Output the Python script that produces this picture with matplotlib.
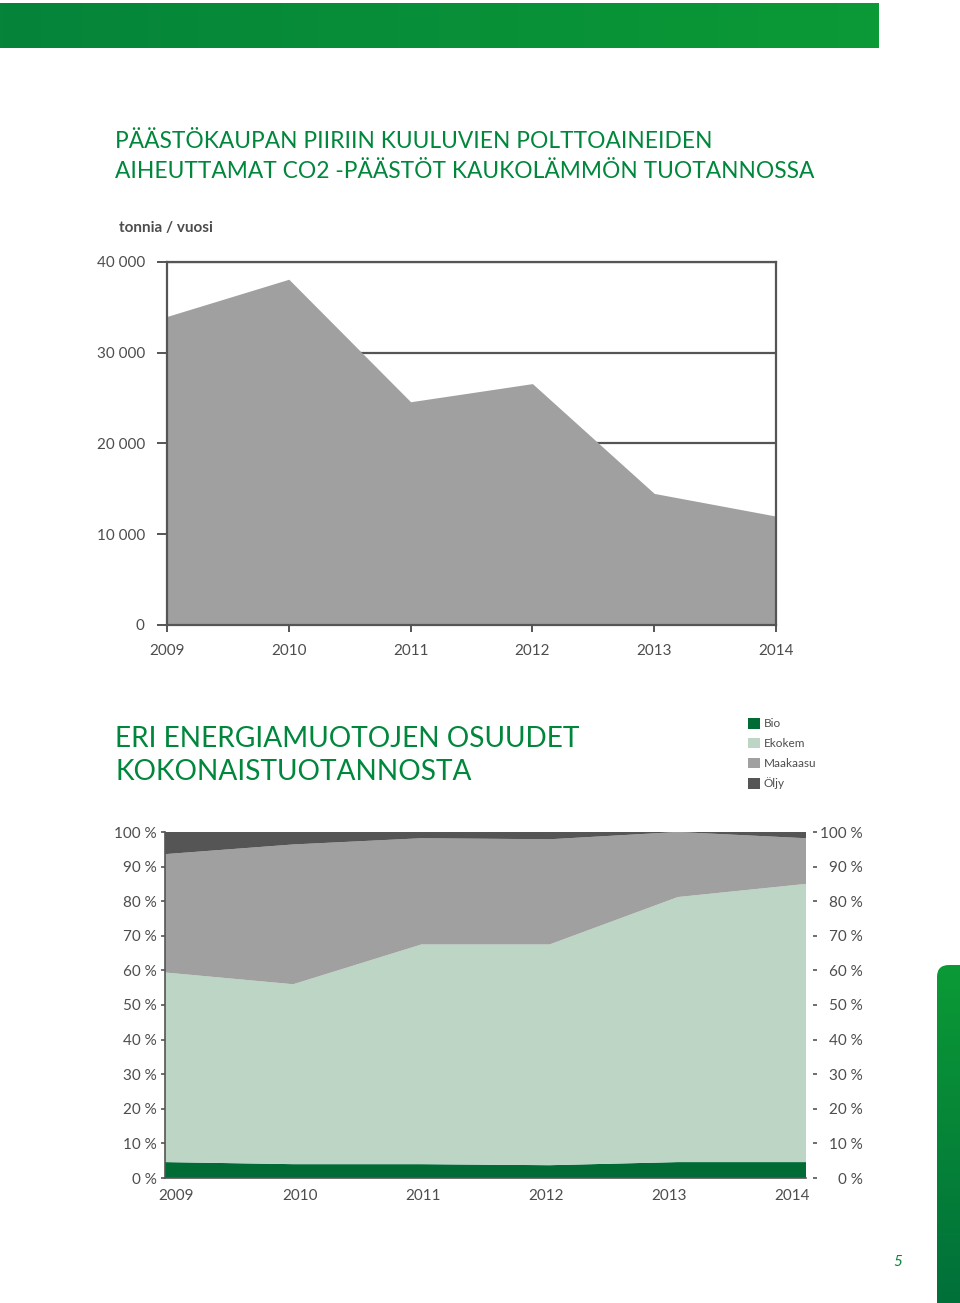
import matplotlib as mpl
mpl.use('Agg')
import matplotlib.pyplot as plt
import numpy as np
from matplotlib.patches import FancyBboxPatch, Patch
from matplotlib.ticker import FuncFormatter

plt.rcParams['font.family'] = ['Lato', 'DejaVu Sans']

# data
years = ['2009', '2010', '2011', '2012', '2013', '2014']
co2_tonnes = [34000, 38100, 24600, 26600, 14500, 12000]

share_labels = ['Bio', 'Ekokem', 'Maakaasu', 'Öljy']
bio = [4.6, 4.0, 4.0, 3.7, 4.6, 4.6]
ekokem = [54.8, 52.0, 63.5, 63.8, 76.6, 80.4]
maakaasu = [34.2, 40.4, 30.7, 30.4, 18.8, 13.2]
oljy = [6.4, 3.6, 1.8, 2.1, 0.0, 1.8]

GREEN = '#00873c'
TXT = '#4d4d4d'
LINE = '#555555'
share_colors = ['#006b35', '#bcd5c5', '#a0a0a0', '#555555']

W, H = 960, 1303
fig = plt.figure(figsize=(W / 100, H / 100), dpi=100)

# page decoration: green bar on top and tab on the right
bg = fig.add_axes([0, 0, 1, 1], zorder=-10)
bg.set_xlim(0, W)
bg.set_ylim(H, 0)
bg.axis('off')
grad = np.linspace(0, 1, 256).reshape(1, -1)
cmap_h = mpl.colors.LinearSegmentedColormap.from_list('h', ['#05843a', '#0b9a36'])
bg.imshow(grad, extent=(0, 879, 48, 3), cmap=cmap_h, aspect='auto')
cmap_v = mpl.colors.LinearSegmentedColormap.from_list('v', ['#0b9a36', '#006d3a'])
tab = bg.imshow(grad.T, extent=(937, W + 20, H + 20, 965), cmap=cmap_v, aspect='auto')
clip = FancyBboxPatch((937, 965), 60, 400, boxstyle='round,pad=0,rounding_size=12',
                      transform=bg.transData, facecolor='none', edgecolor='none')
bg.add_patch(clip)
tab.set_clip_path(clip)
bg.set_xlim(0, W)
bg.set_ylim(H, 0)
bg.text(898, 1262, '5', color=GREEN, fontsize=11, ha='center', va='center', style='italic')

# titles
fig.text(115 / W, 1 - 142 / H, 'PÄÄSTÖKAUPAN PIIRIIN KUULUVIEN POLTTOAINEIDEN',
         color=GREEN, fontsize=16.4, va='center')
fig.text(115 / W, 1 - 171 / H, 'AIHEUTTAMAT CO2 -PÄÄSTÖT KAUKOLÄMMÖN TUOTANNOSSA',
         color=GREEN, fontsize=16.4, va='center')
fig.text(119 / W, 1 - 228 / H, 'tonnia / vuosi', color=TXT, fontsize=11,
         fontweight='bold', va='center')
fig.text(115 / W, 1 - 739 / H, 'ERI ENERGIAMUOTOJEN OSUUDET',
         color=GREEN, fontsize=20.2, va='center')
fig.text(115 / W, 1 - 772 / H, 'KOKONAISTUOTANNOSTA',
         color=GREEN, fontsize=20.2, va='center')

x = np.arange(len(years))

# top chart
ax1 = fig.add_axes([167 / W, 1 - 625 / H, (776 - 167) / W, (625 - 262) / H])
ax1.fill_between(x, 0, co2_tonnes, color='#a0a0a0', lw=0, zorder=2)
ax1.set_xlim(0, 5)
ax1.set_ylim(0, 40000)
ax1.set_yticks([0, 10000, 20000, 30000, 40000])
ax1.yaxis.set_major_formatter(FuncFormatter(lambda v, p: f'{int(v):,}'.replace(',', ' ')))
ax1.set_xticks(x)
ax1.set_xticklabels(years)
ax1.grid(axis='y', color=LINE, lw=1.6, zorder=0)
ax1.set_axisbelow(True)
for s in ax1.spines.values():
    s.set_color(LINE)
    s.set_linewidth(1.6)
    s.set_zorder(3)
ax1.tick_params(axis='y', length=7, width=1.4, color=LINE, labelcolor=TXT,
                labelsize=11, pad=9)
ax1.tick_params(axis='x', length=5, width=1.4, color=LINE, labelcolor=TXT,
                labelsize=11, pad=8.5)

# bottom chart
ax2 = fig.add_axes([165 / W, 1 - 1178 / H, (806 - 165) / W, (1178 - 832) / H])
ax2.stackplot(x, bio, ekokem, maakaasu, oljy, colors=share_colors, lw=0)
ax2.set_xlim(0, 5)
ax2.set_ylim(0, 100)
ax2.set_xticks(x * 0.96 + 0.09)
ax2.set_xticklabels(years)
ax2.set_yticks(np.arange(0, 101, 10))
pct = FuncFormatter(lambda v, p: f'{int(v)} %')
ax2.yaxis.set_major_formatter(pct)
ax2.tick_params(axis='y', length=3, width=1.2, color=LINE,
                labelcolor=TXT, labelsize=11, pad=3)
ax2.tick_params(axis='x', length=0, labelcolor=TXT, labelsize=11, pad=8)
for side in ['left', 'bottom']:
    ax2.spines[side].set_color(LINE)
    ax2.spines[side].set_linewidth(1.2)
ax2.spines['right'].set_visible(False)
ax2.spines['top'].set_visible(False)

# right-hand percent scale, labels right-aligned
ax3 = ax2.twinx()
ax3.set_ylim(0, 100)
ax3.set_yticks(np.arange(0, 101, 10))
ax3.yaxis.set_major_formatter(pct)
ax3.spines['right'].set_position(('outward', 5))
for s in ax3.spines.values():
    s.set_visible(False)
ax3.tick_params(axis='y', length=3, width=1.2, color=LINE, labelcolor=TXT,
                labelsize=11, pad=33)
for lbl in ax3.get_yticklabels():
    lbl.set_horizontalalignment('right')

handles = [Patch(facecolor=c, edgecolor='none') for c in share_colors]
fig.legend(handles, share_labels, loc='upper left',
           bbox_to_anchor=(748 / W, 1 - 718 / H), frameon=False, fontsize=8.5,
           handlelength=1.0, handleheight=1.0, handletextpad=0.35,
           labelspacing=0.72, borderpad=0, borderaxespad=0, labelcolor=TXT)

fig.savefig('out.png', dpi=100)
